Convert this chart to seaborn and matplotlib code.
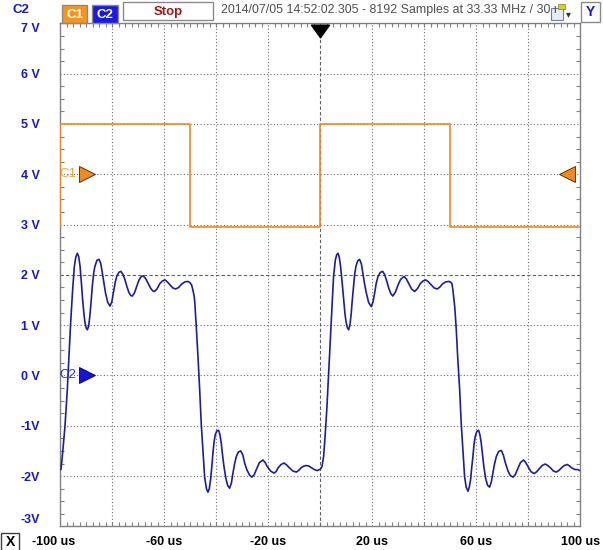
import numpy as np
import pandas as pd
import seaborn as sns
import matplotlib
matplotlib.use("Agg")
import matplotlib.pyplot as plt
from matplotlib.patches import Rectangle
from matplotlib.path import Path
from matplotlib.transforms import ScaledTranslation

# ---------------- data ----------------
c1_t = [-100, -100, -50, -50, 0, 0, 50, 50, 100]
c1_v = [2.95, 5.0, 5.0, 2.95, 2.95, 5.0, 5.0, 2.95, 2.95]

# C2 samples: (time in us, volts)
c2_samples = [
    (-99.74, -1.87), (-99.23, -1.61), (-98.2, -1.01), (-97.3, -0.28), (-96.67, 0.38),
    (-96.03, 1.04), (-95.26, 1.70), (-94.6, 2.17), (-94.0, 2.36), (-93.46, 2.43),
    (-92.9, 2.36), (-92.4, 2.17), (-91.9, 1.85), (-91.4, 1.50), (-90.9, 1.22),
    (-90.5, 1.05), (-90.0, 0.94), (-89.6, 0.91), (-89.1, 0.98), (-88.6, 1.20),
    (-88.1, 1.50), (-87.7, 1.77), (-87.2, 2.02), (-86.7, 2.17), (-85.9, 2.29),
    (-85.1, 2.31), (-84.4, 2.22), (-83.8, 2.03), (-83.2, 1.83), (-82.6, 1.64),
    (-81.8, 1.46), (-80.9, 1.38), (-80.2, 1.46), (-79.6, 1.64), (-78.9, 1.85),
    (-78.3, 1.97), (-77.5, 2.05), (-76.7, 2.07), (-75.9, 2.01), (-75.1, 1.90),
    (-74.4, 1.77), (-73.6, 1.65), (-72.9, 1.59), (-72.3, 1.58), (-71.5, 1.64),
    (-70.6, 1.77), (-69.8, 1.89), (-69.0, 1.96), (-68.1, 1.98), (-67.2, 1.93),
    (-66.2, 1.83), (-65.2, 1.73), (-64.4, 1.68), (-63.8, 1.67), (-62.8, 1.72),
    (-61.7, 1.83), (-60.7, 1.88), (-59.7, 1.90), (-58.8, 1.86), (-57.8, 1.80),
    (-56.7, 1.74), (-55.6, 1.72), (-54.5, 1.75), (-53.3, 1.82), (-52.1, 1.86),
    (-51.0, 1.87), (-50.2, 1.85), (-49.5, 1.80), (-49.0, 1.70), (-48.5, 1.57),
    (-48.3, 1.47), (-47.7, 0.97), (-47.05, 0.38), (-46.4, -0.28), (-45.8, -0.95),
    (-45.1, -1.54), (-44.5, -2.01), (-43.8, -2.25), (-43.2, -2.32), (-42.7, -2.25),
    (-42.2, -2.07), (-41.7, -1.80), (-41.3, -1.54), (-40.8, -1.30), (-40.4, -1.18),
    (-39.8, -1.10), (-39.1, -1.09), (-38.6, -1.18), (-38.1, -1.34), (-37.6, -1.58),
    (-37.05, -1.81), (-36.3, -2.05), (-35.6, -2.19), (-34.9, -2.24), (-34.2, -2.14),
    (-33.6, -1.94), (-32.9, -1.74), (-32.3, -1.61), (-31.5, -1.52), (-30.6, -1.50),
    (-29.8, -1.58), (-29.1, -1.74), (-28.2, -1.88), (-27.2, -1.98), (-26.3, -2.02),
    (-25.4, -1.97), (-24.6, -1.87), (-23.4, -1.73), (-22.05, -1.68), (-21.2, -1.73),
    (-20.4, -1.81), (-19.1, -1.90), (-17.8, -1.94), (-17.0, -1.91), (-16.3, -1.84),
    (-15.1, -1.77), (-14.0, -1.74), (-12.9, -1.78), (-11.8, -1.84), (-10.5, -1.90),
    (-9.2, -1.92), (-8.2, -1.88), (-7.3, -1.83), (-6.3, -1.80), (-5.4, -1.79),
    (-4.4, -1.80), (-3.5, -1.83), (-2.3, -1.87), (-1.2, -1.89), (0.1, -1.86),
    (0.64, -1.81), (1.28, -1.61), (1.92, -1.15), (2.56, -0.62), (3.2, 0.05),
    (3.85, 0.71), (4.5, 1.37), (5.1, 1.97), (5.8, 2.30), (6.3, 2.40),
    (6.8, 2.43), (7.3, 2.35), (7.8, 2.17), (8.4, 1.85), (9.0, 1.50),
    (9.5, 1.22), (9.9, 1.07), (10.4, 0.95), (10.9, 0.91), (11.4, 1.00),
    (11.9, 1.24), (12.3, 1.50), (12.8, 1.77), (13.2, 2.00), (13.7, 2.17),
    (14.4, 2.28), (15.1, 2.31), (15.8, 2.22), (16.4, 2.03), (17.0, 1.83),
    (17.7, 1.64), (18.6, 1.45), (19.6, 1.37), (20.3, 1.47), (20.9, 1.64),
    (21.5, 1.83), (22.2, 1.97), (23.1, 2.05), (24.0, 2.07), (24.8, 2.00),
    (25.6, 1.87), (26.3, 1.74), (27.1, 1.63), (27.9, 1.58), (28.9, 1.66),
    (29.9, 1.80), (30.9, 1.91), (32.2, 1.97), (33.1, 1.92), (34.0, 1.83),
    (35.1, 1.72), (36.3, 1.67), (37.4, 1.73), (38.5, 1.83), (39.5, 1.88),
    (40.6, 1.90), (41.6, 1.86), (42.7, 1.80), (43.8, 1.74), (45.0, 1.72),
    (46.0, 1.76), (47.0, 1.82), (48.2, 1.86), (49.4, 1.87), (50.0, 1.86),
    (50.6, 1.83), (51.0, 1.70), (51.7, 1.37), (52.3, 0.91), (52.9, 0.31),
    (53.6, -0.28), (54.2, -0.95), (54.9, -1.54), (55.5, -2.01), (56.1, -2.22),
    (56.8, -2.30), (57.3, -2.22), (57.8, -2.07), (58.2, -1.85), (58.7, -1.61),
    (59.1, -1.38), (59.6, -1.21), (60.2, -1.11), (60.9, -1.09), (61.4, -1.18),
    (61.9, -1.34), (62.4, -1.58), (62.9, -1.81), (63.6, -2.05), (64.3, -2.18),
    (65.1, -2.22), (65.8, -2.11), (66.4, -1.94), (67.0, -1.76), (67.7, -1.61),
    (68.6, -1.51), (69.6, -1.49), (70.4, -1.58), (71.2, -1.74), (72.2, -1.90),
    (73.1, -1.99), (74.1, -2.02), (75.0, -1.97), (75.8, -1.87), (77.0, -1.73),
    (78.2, -1.68), (79.0, -1.73), (79.9, -1.81), (81.0, -1.91), (82.2, -1.95),
    (83.1, -1.92), (84.1, -1.86), (85.3, -1.79), (86.5, -1.76), (87.5, -1.79),
    (88.6, -1.84), (89.7, -1.90), (90.8, -1.92), (91.7, -1.89), (92.7, -1.84),
    (93.8, -1.79), (95.0, -1.77), (95.9, -1.80), (96.8, -1.84), (98.0, -1.87),
    (99.1, -1.87), (99.7, -1.89),
]
c2_t = [p[0] for p in c2_samples]
c2_v = [p[1] for p in c2_samples]

x_ticks = [-100, -60, -20, 20, 60, 100]
x_labels = ["-100 us", "-60 us", "-20 us", "20 us", "60 us", "100 us"]
y_ticks = [-3, -2, -1, 0, 1, 2, 3, 4, 5, 6, 7]
y_labels = ["-3V", "-2V", "-1V", "0 V", "1 V", "2 V", "3 V", "4 V", "5 V", "6 V", "7 V"]
channels = ["C1", "C2"]
channel_offsets = [4, 0]

ORANGE = "#ee8a1e"
NAVY = "#1e1e96"
LBLUE = "#1818c8"

# ---------------- figure ----------------
W, H = 603, 550
sns.set_style("white")
plt.rcParams["font.family"] = ["Liberation Sans", "DejaVu Sans"]
fig = plt.figure(figsize=(W / 100, H / 100), dpi=100)
fig.patch.set_facecolor("white")

def fx(px):
    return px / W

def fy(py):
    return 1 - py / H

ax = fig.add_axes([60.3 / W, (H - 526.4) / H, 520 / W, 503 / H])

df = pd.concat([
    pd.DataFrame({"t": c1_t, "v": c1_v, "ch": "C1"}),
    pd.DataFrame({"t": c2_t, "v": c2_v, "ch": "C2"}),
], ignore_index=True)

sns.lineplot(data=df, x="t", y="v", hue="ch", palette={"C1": ORANGE, "C2": NAVY},
             sort=False, estimator=None, legend=False, lw=1.2, ax=ax, zorder=3)

ax.set_xlim(-100, 100)
ax.set_ylim(-3, 7)

# grid
for v in range(-2, 7):
    if v == 2:
        ax.axhline(v, color="#606060", lw=0.8, ls=(0, (3, 2)), zorder=1)
    else:
        ax.axhline(v, color="#707070", lw=0.8, ls=(0, (1, 2)), zorder=1)
for t in range(-80, 100, 20):
    if t == 0:
        ax.axvline(t, color="#606060", lw=0.8, ls=(0, (3, 2)), zorder=1)
    else:
        ax.axvline(t, color="#707070", lw=0.8, ls=(0, (1, 2)), zorder=1)

for s in ax.spines.values():
    s.set_color("#808080")
    s.set_linewidth(1.0)

ax.set_xticks(x_ticks)
ax.set_xticklabels(x_labels)
ax.set_yticks(y_ticks)
ax.set_yticklabels(y_labels)
ax.set_xticks(np.arange(-100, 100.1, 2.5), minor=True)
ax.set_yticks(np.arange(-3, 7.01, 0.25), minor=True)
ax.tick_params(which="major", length=0)
ax.tick_params(axis="x", which="major", pad=7, labelsize=9, labelcolor="black")
ax.tick_params(axis="y", which="major", pad=14.5, labelsize=9, labelcolor=LBLUE)
ax.tick_params(which="minor", direction="in", length=3, width=0.8, color="#808080",
               top=True, right=True, bottom=True, left=True)
for lab in ax.get_xticklabels() + ax.get_yticklabels():
    lab.set_fontweight("bold")
ylabs = ax.get_yticklabels()
ylabs[0].set_va("bottom")
ylabs[-1].set_va("top")
xl0 = ax.get_xticklabels()[0]
xl0.set_transform(xl0.get_transform() + ScaledTranslation(-7 / 100, 0, fig.dpi_scale_trans))
ax.set_xlabel("")
ax.set_ylabel("")

# channel offset markers
ch_colors = [ORANGE, "#1414dc"]
ch_text_colors = ["#f5a142", "#3030e0"]
for name, off, col, tcol in zip(channels, channel_offsets, ch_colors, ch_text_colors):
    ax.plot([-89.6], [off], marker=">", ms=11, color=col,
            mec="#402000" if name == "C1" else "#000060",
            mew=0.6, clip_on=False, zorder=5)
    ax.text(-97.0, off, name, color=tcol, fontsize=9.5, ha="center", va="center", zorder=5)
ax.plot([94.8], [channel_offsets[0]], marker="<", ms=11, color=ORANGE, mec="#402000",
        mew=0.6, clip_on=False, zorder=5)
trig = Path([(-1, 0.7), (1, 0.7), (0, -0.7), (-1, 0.7)],
            [Path.MOVETO, Path.LINETO, Path.LINETO, Path.CLOSEPOLY])
ax.plot([0], [6.85], marker=trig, ms=13, color="black", clip_on=False, zorder=5)

# ---------------- header ----------------
fig.text(fx(21), fy(10), "C2", color=LBLUE, fontsize=9.5, fontweight="bold", ha="center", va="center")

def box(x0, y0, x1, y1, fc, ec="#8a8a8a", lw=1.0):
    fig.add_artist(Rectangle((fx(x0), fy(y1)), (x1 - x0) / W, (y1 - y0) / H,
                             transform=fig.transFigure, facecolor=fc, edgecolor=ec, lw=lw))

box(62, 5, 87, 23, "#f7941d")
fig.text(fx(74.5), fy(14.5), "C1", color="white", fontsize=9.5, fontweight="bold", ha="center", va="center")
box(92, 5, 118, 23, "#1a1ae0")
fig.text(fx(105), fy(14.5), "C2", color="white", fontsize=9.5, fontweight="bold", ha="center", va="center")
box(123, 2, 213, 20, "white")
fig.text(fx(168), fy(11.5), "Stop", color="#a01818", fontsize=9.5, fontweight="bold", ha="center", va="center")
ts = fig.text(fx(221), fy(10.5), "2014/07/05 14:52:02.305 - 8192 Samples at 33.33 MHz / 30 ns",
              color="#505050", fontsize=8.9, ha="left", va="center")
clip = Rectangle((fx(215), fy(24)), (556 - 215) / W, 24 / H, transform=fig.transFigure, visible=False)
fig.add_artist(clip)
ts.set_clip_path(clip)
# small icon
box(551, 8, 563, 20, "#e8eef8", ec="#7a7a9a", lw=0.8)
fig.add_artist(Rectangle((fx(558), fy(9)), 7 / W, 5 / H, transform=fig.transFigure,
                         facecolor="#d8d020", edgecolor="#808020", lw=0.5))
fig.text(fx(568), fy(14), "\u25be", color="#303030", fontsize=7, ha="center", va="center")
box(581, 2, 600, 22, "white")
fig.text(fx(590.5), fy(12), "Y", color=LBLUE, fontsize=10, fontweight="bold", ha="center", va="center")

# X box bottom-left
box(1, 533, 19, 553, "white", ec="#404040")
fig.text(fx(10), fy(542), "X", color="black", fontsize=10, fontweight="bold", ha="center", va="center")

fig.savefig("out.png", dpi=100, facecolor="white")
